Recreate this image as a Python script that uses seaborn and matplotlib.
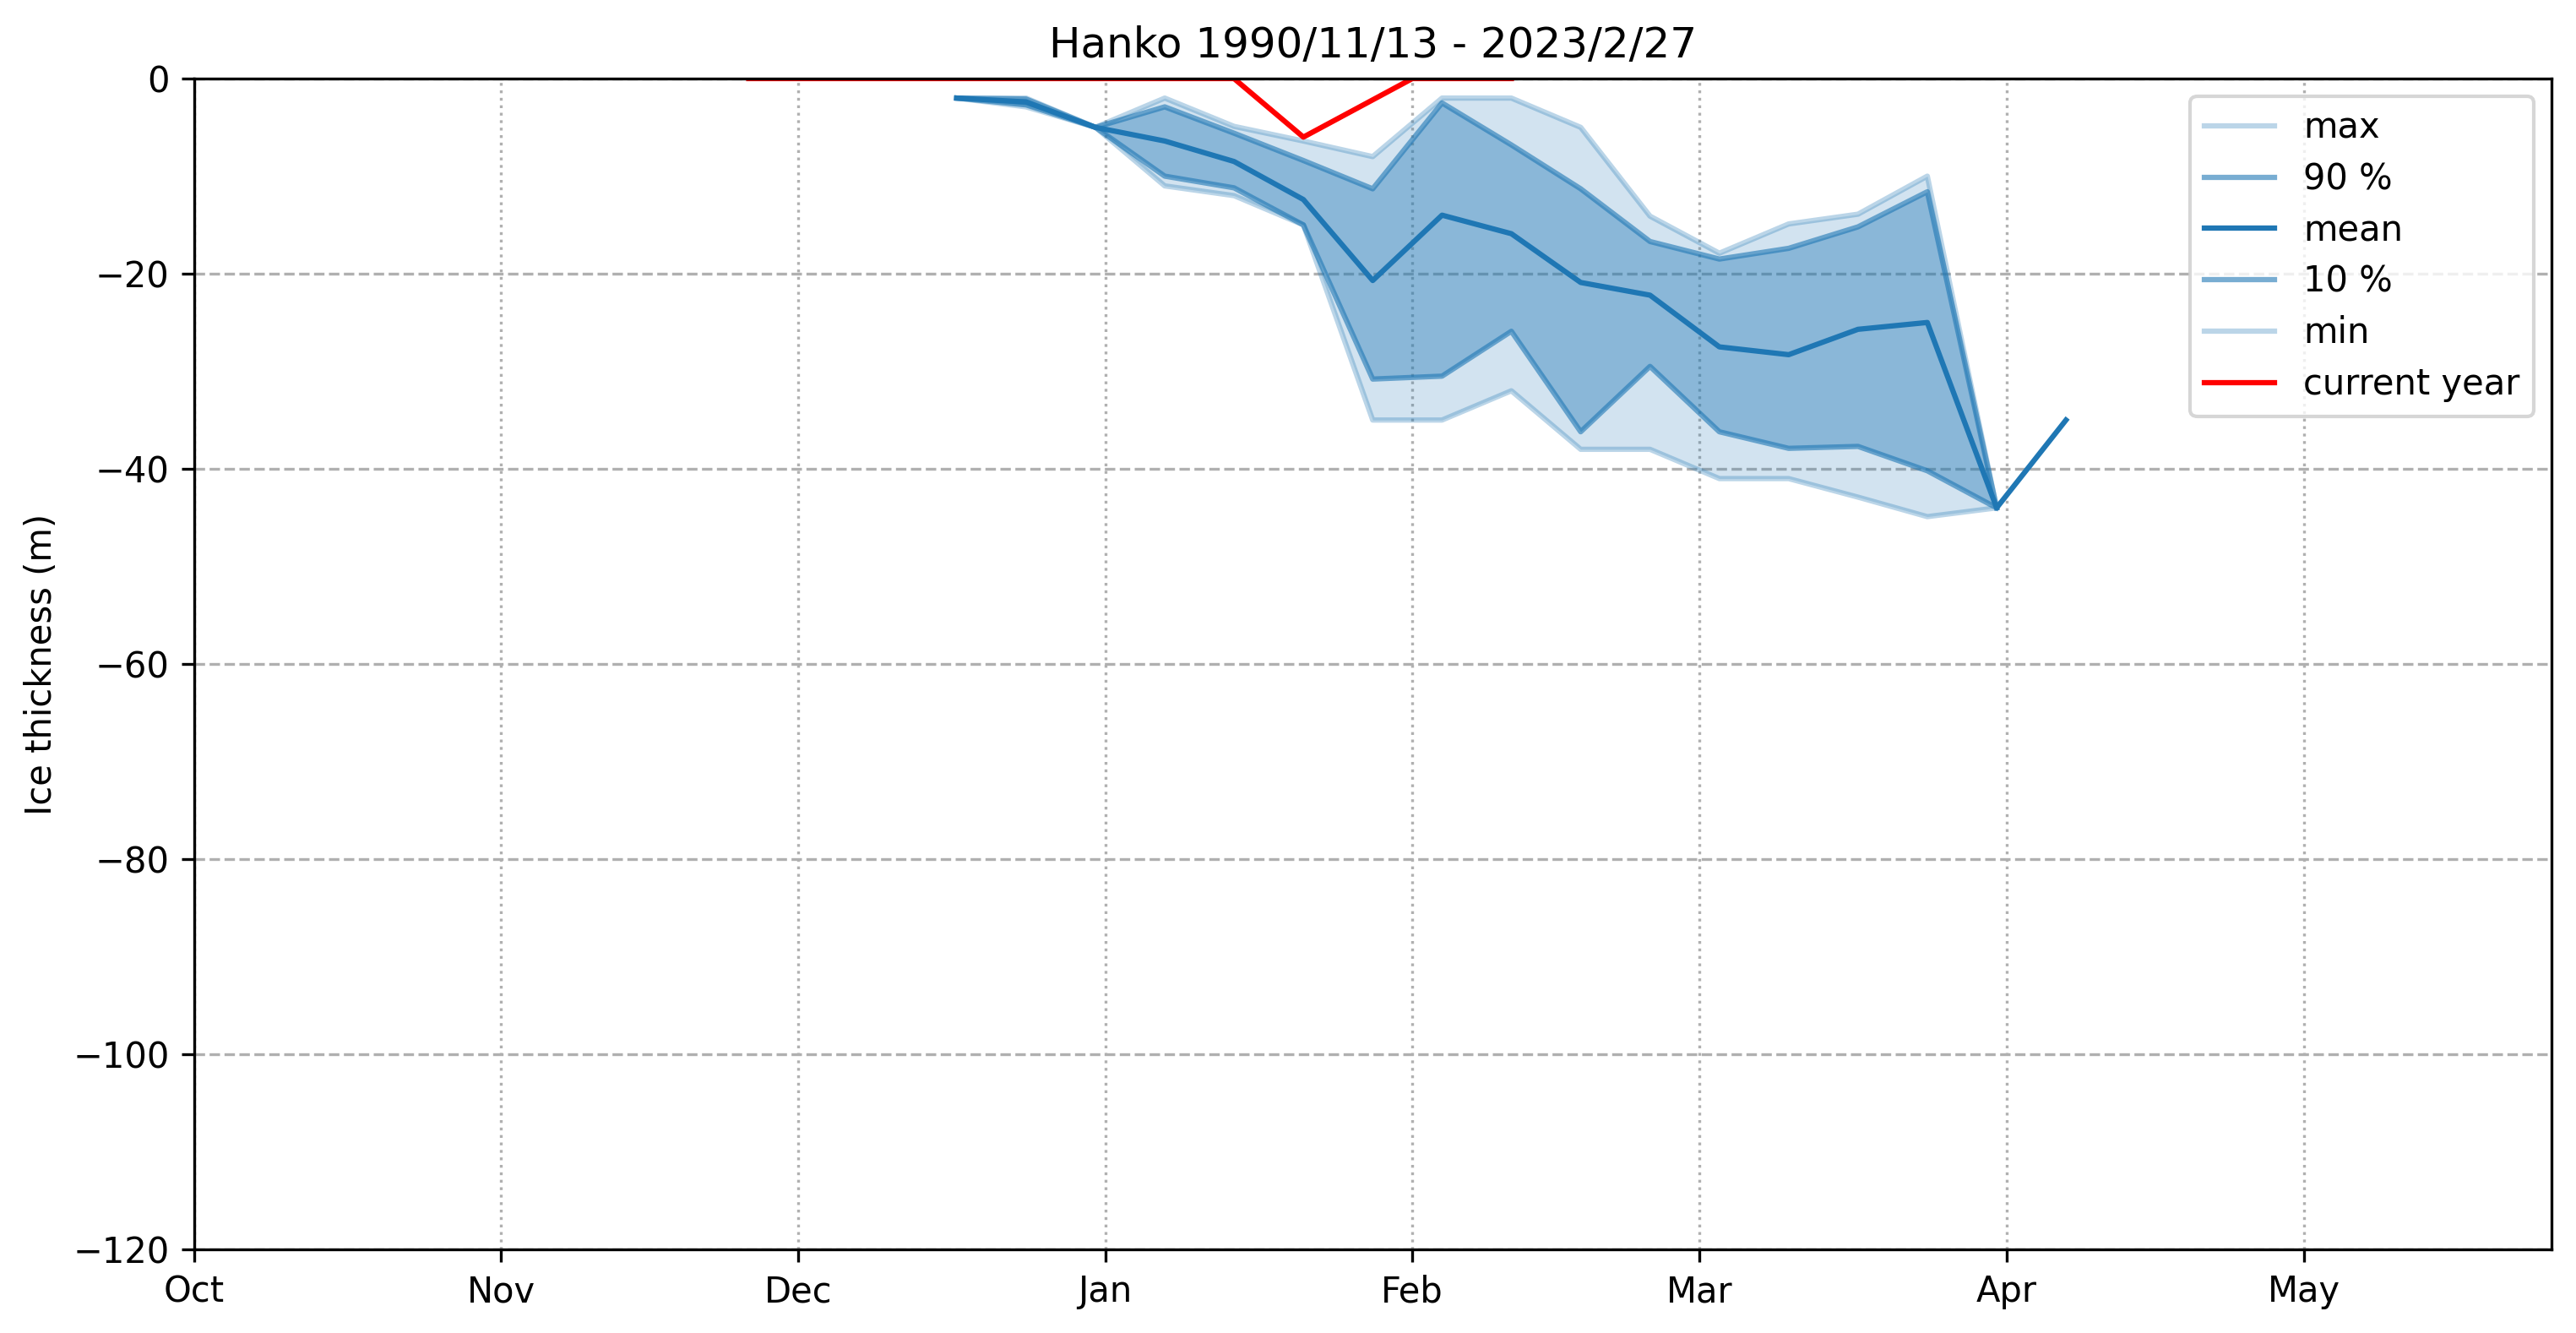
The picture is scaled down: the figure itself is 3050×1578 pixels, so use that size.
import numpy as np
import pandas as pd
import matplotlib
matplotlib.use("Agg")
import matplotlib.pyplot as plt
import matplotlib.dates as mdates
import seaborn as sns

# ---- data -------------------------------------------------------------
stat_dates = ["1999-12-17", "1999-12-24", "1999-12-31", "2000-01-07", "2000-01-14",
              "2000-01-21", "2000-01-28", "2000-02-04", "2000-02-11", "2000-02-18",
              "2000-02-25", "2000-03-03", "2000-03-10", "2000-03-17", "2000-03-24",
              "2000-03-31", "2000-04-07"]
ice_max = [-2, -2.0, -5, -2.0, -4.9, -6.4, -8.0, -2.0, -2.0, -5.0,
           -14.1, -17.9, -14.9, -13.9, -10.0, -44, np.nan]
ice_p90 = [-2, -2.1, -5, -2.9, -5.6, -8.4, -11.3, -2.5, -6.8, -11.3,
           -16.7, -18.5, -17.4, -15.2, -11.6, -44, np.nan]
ice_mean = [-2, -2.4, -5, -6.4, -8.5, -12.4, -20.7, -14.0, -15.9, -20.9,
            -22.2, -27.5, -28.3, -25.7, -25.0, -44, -35]
ice_p10 = [-2, -2.7, -5, -10.0, -11.2, -15.0, -30.8, -30.5, -25.9, -36.2,
           -29.5, -36.2, -37.9, -37.7, -40.2, -44, np.nan]
ice_min = [-2, -2.9, -5, -11.0, -12.0, -15.0, -35.0, -35.0, -32.0, -38.0,
           -38.0, -41.0, -41.0, -42.9, -44.9, -44, np.nan]

current_dates = ["1999-11-26", "1999-12-03", "1999-12-10", "1999-12-17", "1999-12-24",
                 "1999-12-31", "2000-01-07", "2000-01-14", "2000-01-21", "2000-02-01",
                 "2000-02-11"]
current_vals = [0, 0, 0, 0, 0, 0, 0, 0, -6, 0, 0]

title = "Hanko 1990/11/13 - 2023/2/27"
ylabel = "Ice thickness (m)"

# ---- build frames -----------------------------------------------------
df = pd.DataFrame({
    "date": pd.to_datetime(stat_dates),
    "max": ice_max, "p90": ice_p90, "mean": ice_mean,
    "p10": ice_p10, "min": ice_min,
})
cur = pd.DataFrame({"date": pd.to_datetime(current_dates), "val": current_vals})

c0 = "#1f77b4"

fig = plt.figure(figsize=(3050 / 300, 1578 / 300), dpi=300)
ax = fig.add_axes([229.9 / 3050, 1 - 1479 / 1578,
                   (3020.7 - 229.9) / 3050, (1479 - 93) / 1578])

band = df.dropna(subset=["max", "min"])
ax.fill_between(band["date"], band["min"], band["max"], color=c0, alpha=0.2, lw=0, zorder=1)
ax.fill_between(band["date"], band["p10"], band["p90"], color=c0, alpha=0.4, lw=0, zorder=1)

series = [("max", "max", 0.3), ("p90", "90 %", 0.6), ("mean", "mean", 1.0),
          ("p10", "10 %", 0.6), ("min", "min", 0.3)]
for col, lab, a in series:
    sub = df[["date", col]].dropna()
    sns.lineplot(data=sub, x="date", y=col, ax=ax, color=c0, alpha=a,
                 label=lab, linewidth=1.5, estimator=None, zorder=2)

sns.lineplot(data=cur, x="date", y="val", ax=ax, color="red", label="current year",
             linewidth=1.5, estimator=None, zorder=2)

ax.set_xlim(pd.Timestamp("1999-10-01"), pd.Timestamp("2000-05-26"))
ax.set_ylim(-120, 0)
ax.xaxis.set_major_locator(mdates.MonthLocator())
ax.xaxis.set_major_formatter(mdates.DateFormatter("%b"))
ax.grid(axis="y", linestyle="--", color="#b0b0b0", linewidth=0.8)
ax.grid(axis="x", linestyle=":", color="#b0b0b0", linewidth=0.8)
ax.set_axisbelow(True)
for sp in ax.spines.values():
    sp.set_zorder(4)
ax.set_xlabel("")
ax.set_ylabel(ylabel)
ax.set_title(title, fontsize=12)
ax.legend(loc="upper right", labelspacing=0.45)

fig.savefig("out.png", dpi=300)
